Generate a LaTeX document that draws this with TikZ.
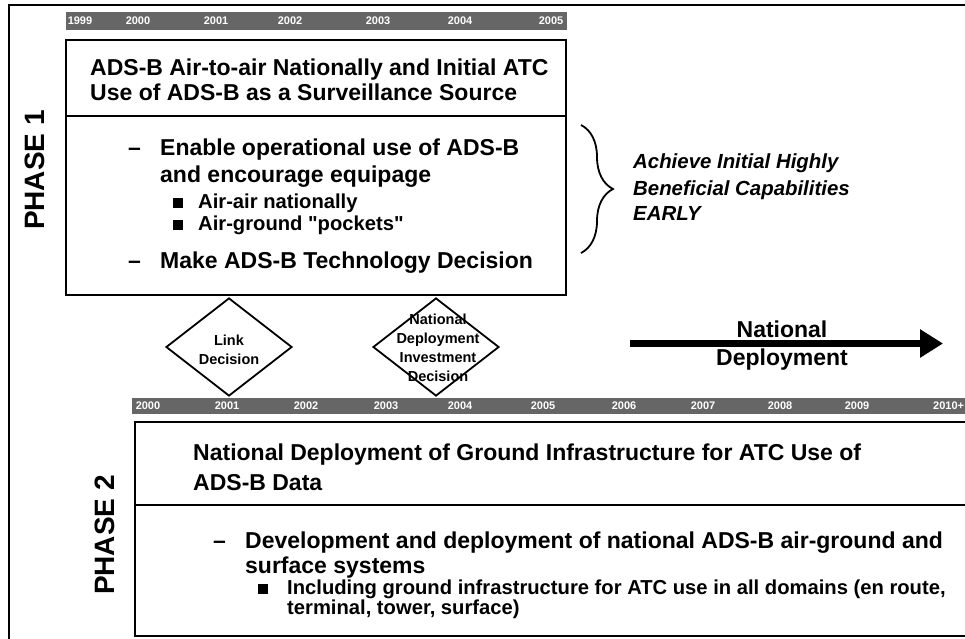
\documentclass[tikz,border=0pt]{standalone}
\usepackage{fontspec}
\setmainfont{Liberation Sans}
\usetikzlibrary{shapes.geometric,decorations.pathreplacing,arrows.meta}

\newcommand{\fsz}[1]{\fontsize{#1}{#1}\selectfont\bfseries}
\newcommand{\sq}{\XeTeXglyph\XeTeXcharglyph"22\relax}

\begin{document}
\begin{tikzpicture}[x=1pt,y=-1pt,
  txt/.style={anchor=base west,inner sep=0pt,font=\fsz{23}},
  subtxt/.style={anchor=base west,inner sep=0pt,font=\fsz{20.2}},
  yearlbl/.style={inner sep=0pt,text=white,font=\fsz{11}},
  decision/.style={diamond,draw,line width=1.8pt,fill=white,minimum width=126pt,minimum height=98pt,inner sep=0pt},
  declabel/.style={align=center,inner sep=0pt,font=\fontsize{14.5}{19}\selectfont\bfseries},
  phase/.style={rotate=90,inner sep=0pt,font=\fsz{28}}]
\useasboundingbox (0,0) rectangle (965,638);

% frame
\draw[line width=1.5pt] (9,640) -- (9,5) -- (967,5);

\fill[black!60] (66,12) rectangle (567,30);
\foreach \x/\yr in {80/1999,138/2000,216/2001,290/2002,378/2003,460/2004,551/2005}
\node[yearlbl] (a\yr) at (\x,21) {\yr};

\fill[black!60] (132,398) rectangle (967,414);
\foreach \x/\yr in {148/2000,227/2001,306/2002,386/2003,460/2004,543/2005,624/2006,703/2007,780/2008,857/2009}
\node[yearlbl] (b\yr) at (\x,406) {\yr};
\node[yearlbl,anchor=west] (b2010) at (933,406) {2010+};

\node[phase] (ph1) at (35,170) {PHASE 1};
\node[phase] (ph2) at (105,535) {PHASE 2};

\draw[line width=1.8pt,fill=white] (66,40) rectangle (566,295);
\draw[line width=1.3pt] (66,116) -- (566,116);
\node[txt] (t1a) at (90,75) {ADS-B Air-to-air Nationally and Initial ATC};
\node[txt] (t1b) at (90,100) {Use of ADS-B as a Surveillance Source};
\node[txt] (d1) at (128,155) {–};
\node[txt] (i1a) at (160,155) {Enable operational use of ADS-B};
\node[txt] (i1b) at (160,182) {and encourage equipage};
\fill (173,198) rectangle (183,208);
\node[subtxt] (s1) at (198,208) {Air-air nationally};
\fill (173,220) rectangle (183,230);
\node[subtxt] (s2) at (198,230) {Air-ground \sq pockets\sq};
\node[txt] (d2) at (128,268) {–};
\node[txt] (i2) at (160,268) {Make ADS-B Technology Decision};

\draw[line width=1.8pt,decorate,decoration={brace,amplitude=32pt}] (581,125) -- (581,253);
\foreach \y/\t in {168/Achieve Initial Highly,195/Beneficial Capabilities,220/EARLY}
\node[subtxt,font=\fsz{20.4}\itshape] (g\y) at (633,\y) {\t};

\node[decision] (link) at (229,347) {};
\node[declabel] (linktxt) at (229,350) {Link\\Decision};
\node[decision] (ndid) at (436,347) {};
\node[declabel] (ndidtxt) at (438,348) {National\\Deployment\\Investment\\Decision};

\coordinate (ndstart) at (630,343.5);
\coordinate (ndend) at (943,343.5);
\draw[line width=6.5pt,-{Triangle[length=23pt,width=27pt]}] (ndstart) -- (ndend);
\node[txt,anchor=base] (nd1) at (782,337) {National};
\node[txt,anchor=base] (nd2) at (782,365) {Deployment};

\draw[line width=1.8pt,fill=white] (135,422) rectangle (975,636);
\draw[line width=1.3pt] (135,505) -- (967,505);
\node[txt] (t2a) at (193,460) {National Deployment of Ground Infrastructure for ATC Use of};
\node[txt] (t2b) at (193,490) {ADS-B Data};
\node[txt] (d3) at (213,548) {–};
\node[txt] (i3a) at (245,548) {Development and deployment of national ADS-B air-ground and};
\node[txt] (i3b) at (245,573) {surface systems};
\fill (258,584) rectangle (268,594);
\node[subtxt] (s3a) at (287,594) {Including ground infrastructure for ATC use in all domains (en route,};
\node[subtxt] (s3b) at (287,614) {terminal, tower, surface)};
\end{tikzpicture}
\end{document}
